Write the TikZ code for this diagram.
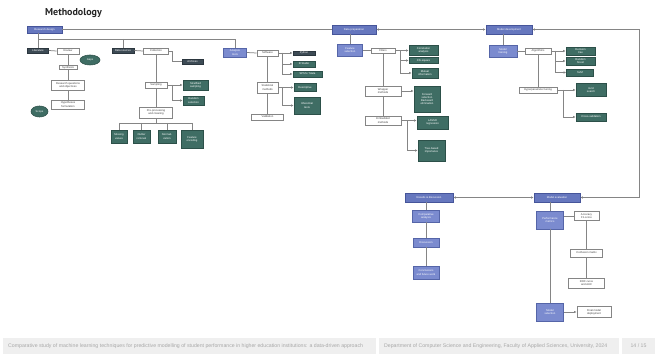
\documentclass[tikz,border=0pt]{standalone}
\usepackage{fontspec}
\setmainfont{Liberation Sans}
\newfontfamily\titlefont{PT Sans}
\usetikzlibrary{arrows.meta,shapes.geometric}
\definecolor{hdfill}{HTML}{6677BE}
\definecolor{hddraw}{HTML}{46559A}
\definecolor{lbfill}{HTML}{7B8BCF}
\definecolor{lbdraw}{HTML}{5565A8}
\definecolor{tlfill}{HTML}{3F6D64}
\definecolor{tldraw}{HTML}{2C5049}
\definecolor{dkfill}{HTML}{3D4B55}
\definecolor{dkdraw}{HTML}{2B363E}
\definecolor{wbdraw}{HTML}{858585}
\definecolor{linec}{HTML}{858585}
\definecolor{footg}{HTML}{EFEFEF}
\definecolor{foott}{HTML}{A8A8A8}
\tikzset{
  base/.style={rectangle, inner sep=0.3pt, font=\fontsize{2.7}{3.1}\selectfont, align=center, line width=0.6pt},
  hd/.style={base, fill=hdfill, draw=hddraw, text=white},
  lb/.style={base, fill=lbfill, draw=lbdraw, text=white},
  tl/.style={base, fill=tlfill, draw=tldraw, text=white},
  dk/.style={base, fill=dkfill, draw=dkdraw, text=white},
  wb/.style={base, fill=white, draw=wbdraw, text=black!75, line width=0.8pt},
  el/.style={ellipse, inner sep=0pt, fill=tlfill, draw=tldraw, text=white, line width=0.6pt, font=\fontsize{2.7}{3.1}\selectfont},
  conn/.style={draw=linec, line width=0.75pt},
  >={Latex[length=2.6pt,width=2.4pt]}
}
\newcommand\bx[7]{\node[#1, minimum width=#5pt, minimum height=#6pt] (#2) at (#3,#4) {#7};}
\begin{document}
\begin{tikzpicture}[x=1pt,y=-1pt]
\useasboundingbox (0,0) rectangle (658,358);
\fill[white] (0,0) rectangle (658,358);
\node[font=\titlefont\bfseries\fontsize{10}{12}\selectfont, text=black!85, anchor=west, inner sep=0pt] (title) at (45,13.5) {Methodology};

% headers
\bx{hd}{A}{44.5}{29.5}{35}{7}{Research design}
\bx{hd}{B}{354}{29.5}{44}{9}{Data preparation}
\bx{hd}{C}{509}{29.5}{46}{9}{Model development}
\bx{hd}{D}{429}{197.5}{48}{9}{Results \& discussion}
\bx{hd}{E}{557}{197.5}{46}{9}{Model evaluation}

% column 1
\bx{dk}{a1}{38}{50.5}{21}{5}{Literature}
\bx{wb}{a2}{68}{51}{22}{6}{Review}
\node[el, minimum width=20pt, minimum height=10pt] (e1) at (90,60) {Gaps};
\bx{wb}{a3}{68}{67.5}{18}{4}{Synthesis}
\bx{wb}{a4}{68}{85}{33}{10}{Research questions\\ and objectives}
\bx{wb}{a5}{68}{104.5}{33}{9}{Hypotheses\\ formulation}
\node[el, minimum width=17pt, minimum height=11pt] (e2) at (39.5,111.5) {Scope};

% column 2
\bx{dk}{b1}{123}{50.5}{22}{5}{Data sources}
\bx{wb}{b2}{156}{51}{25}{6}{Collection}
\bx{dk}{b3}{192.5}{61.5}{21}{5}{Archives}
\bx{wb}{b4}{156}{85}{22}{6}{Sampling}
\bx{tl}{b5}{195.5}{85}{25}{10}{Stratified\\ sampling}
\bx{tl}{b6}{193.5}{100.5}{21}{9}{Random\\ selection}
\bx{wb}{b7}{156}{112.5}{33}{11}{Pre-processing\\ and cleaning}
\bx{tl}{b8}{119}{136.5}{16}{13}{Missing\\ values}
\bx{tl}{b9}{141.5}{136.5}{17}{13}{Outlier\\ removal}
\bx{tl}{b10}{167}{136.5}{18}{13}{Normali-\\zation}
\bx{tl}{b11}{192}{139}{22}{18}{Feature\\ encoding}

% column 3
\bx{lb}{c1}{235}{52.5}{23}{9}{Analysis\\ tools}
\bx{wb}{c2}{267.5}{53}{21}{6}{Software}
\bx{dk}{c3}{304}{53}{22}{4}{Python}
\bx{tl}{c4}{304}{64}{22}{6}{R Studio}
\bx{tl}{c5}{307.5}{74}{29}{6}{SPSS / Stata}
\bx{wb}{c6}{267.5}{87.5}{21}{11}{Statistical\\ methods}
\bx{tl}{c7}{305}{87.5}{22}{8}{Descriptive}
\bx{tl}{c8}{307}{105.5}{26}{17}{Inferential\\ tests}
\bx{wb}{c9}{267.5}{117}{32}{6}{Validation}

% column 4
\bx{lb}{d1}{350}{50.5}{25}{12}{Feature\\ selection}
\bx{wb}{d2}{383}{50.5}{24}{5}{Filters}
\bx{tl}{d3}{423.5}{50.5}{29}{10}{Correlation\\ analysis}
\bx{tl}{d4}{423.5}{60.5}{29}{6}{Chi-square}
\bx{tl}{d5}{425}{73}{26}{10}{Mutual\\ information}
\bx{wb}{d6}{383}{91}{36}{10}{Wrapper\\ methods}
\bx{tl}{d7}{427}{99}{26}{26}{Forward\\ selection\\ Backward\\ elimination}
\bx{wb}{d8}{383}{120.5}{36}{9}{Embedded\\ methods}
\bx{tl}{d9}{432.5}{122.5}{31}{13}{LASSO\\ regression}
\bx{tl}{d10}{431.5}{150.5}{27}{21}{Tree-based\\ importance}

% column 5
\bx{lb}{f1}{503}{51}{28}{12}{Model\\ training}
\bx{wb}{f2}{538}{51}{26}{6}{Algorithms}
\bx{tl}{f3}{580.5}{51}{29}{8}{Decision\\ tree}
\bx{tl}{f4}{580.5}{61}{29}{8}{Random\\ forest}
\bx{tl}{f5}{580}{72.5}{27}{7}{SVM}
\bx{wb}{f6}{538}{90}{38}{6}{Hyperparameter tuning}
\bx{tl}{f7}{591}{90}{30}{13}{Grid\\ search}
\bx{tl}{f8}{591}{117}{30}{8}{Cross-validation}

% bottom
\bx{lb}{D1}{426}{216}{27}{12}{Comparative\\ analysis}
\bx{lb}{D2}{426}{242.5}{26}{9}{Discussion}
\bx{lb}{D3}{426}{272.5}{26}{13}{Conclusions\\ and future work}
\bx{lb}{E1}{550}{220}{27}{18}{Performance\\ metrics}
\bx{wb}{E2}{586.5}{216}{25}{9}{Accuracy\\ F1-score}
\bx{wb}{E3}{586.5}{253}{32}{8}{Confusion matrix}
\bx{wb}{E4}{586.5}{283}{36}{10}{ROC curve\\ and AUC}
\bx{lb}{E5}{550}{312}{27}{18}{Model\\ selection}
\bx{wb}{E6}{594}{312}{34}{11}{Final model\\ deployment}

% main flow
\coordinate (rt) at (639,29.5);
\coordinate (rb) at (639,197.5);
\draw[conn] (A.east) -- (B.west);
\draw[conn,<->] (B.east) -- (C.west);
\draw[conn,->] (rt) -- (C.east);
\draw[conn,->] (rt) -- (rb) -- (E.east);
\draw[conn,<->] (D.east) -- (E.west);

% bus under A
\coordinate (busL) at (38,39);
\coordinate (busR) at (235,39);
\draw[conn] (A.south -| busL) -- (busL) -- (busR) -- (c1.north);
\draw[conn] (busL) -- (a1.north);
\draw[conn] (busL -| b1.north) -- (b1.north);

% column 1
\draw[conn] (a1.east) -- (a2.west);
\draw[conn] (a2) -- (a3) -- (a4) -- (a5);

% column 2
\coordinate (jb2) at (172,51);
\coordinate (jb4) at (172,85);
\coordinate (bb) at (156,123);
\draw[conn] (b1.east) -- (b2.west);
\draw[conn] (b2.east) -- (jb2) |- (b3.west);
\draw[conn] (b2) -- (b4) -- (b7);
\draw[conn,->] (b4.east) -- (b5.west);
\draw[conn,->] (jb4) |- (b6.west);
\draw[conn] (b7.south) -- (bb);
\draw[conn] (b8.north |- bb) -- (b11.north |- bb);
\draw[conn] (b8.north |- bb) -- (b8.north);
\draw[conn] (b9.north |- bb) -- (b9.north);
\draw[conn] (b10.north |- bb) -- (b10.north);
\draw[conn] (b11.north |- bb) -- (b11.north);

% column 3
\coordinate (jc2) at (282,53);
\coordinate (jc6) at (282,87.5);
\draw[conn] (c1.east) -- (c2.west);
\draw[conn,->] (c2.east) -- (c3.west);
\draw[conn,->] (jc2) |- (c4.west);
\draw[conn,->] (jc2) |- (c5.west);
\draw[conn] (c2) -- (c6) -- (c9);
\draw[conn,->] (c6.east) -- (c7.west);
\draw[conn,->] (jc6) |- (c8.west);

% column 4
\coordinate (jd2) at (400,50.5);
\coordinate (jd8) at (407,120.5);
\draw[conn] (B.south -| d1.north) -- (d1.north);
\draw[conn] (d1.east) -- (d2.west);
\draw[conn,->] (d2.east) -- (d3.west);
\draw[conn,->] (jd2) |- (d4.west);
\draw[conn,->] (jd2) |- (d5.west);
\draw[conn] (d2) -- (d6) -- (d8);
\draw[conn,->] (d6.east) -- (d6.east -| d7.west);
\draw[conn,->] (d8.east) -- (d8.east -| d9.west);
\draw[conn,->] (jd8) |- (d10.west);

% column 5
\coordinate (jf2) at (555,51);
\coordinate (jf6) at (563,90);
\draw[conn] (C.south -| f1.north) -- (f1.north);
\draw[conn] (f1.east) -- (f2.west);
\draw[conn,->] (f2.east) -- (f3.west);
\draw[conn,->] (jf2) |- (f4.west);
\draw[conn,->] (jf2) |- (f5.west);
\draw[conn] (f2) -- (f6);
\draw[conn,->] (f6.east) -- (f7.west);
\draw[conn,->] (jf6) |- (f8.west);

% bottom
\draw[conn] (D.south -| D1.north) -- (D1.north);
\draw[conn] (D1) -- (D2) -- (D3);
\draw[conn] (E.south -| E1.north) -- (E1.north);
\draw[conn] (E2.west -| E1.east) -- (E2.west);
\draw[conn] (E2) -- (E3) -- (E4);
\draw[conn] (E1) -- (E5);
\draw[conn,->] (E5.east) -- (E6.west);

% footer
\fill[footg] (3,338) rectangle (376,354);
\fill[footg] (379,338) rectangle (619,354);
\fill[footg] (622,338) rectangle (655,354);
\node[anchor=west, inner sep=0pt, text=foott, font=\fontsize{5.2}{6}\selectfont] (fl) at (8,346) {Comparative study of machine learning techniques for predictive modelling of student performance in higher education institutions: a data-driven approach};
\node[anchor=west, inner sep=0pt, text=foott, font=\fontsize{5.2}{6}\selectfont] (fm) at (384,346) {Department of Computer Science and Engineering, Faculty of Applied Sciences, University, 2024};
\node[anchor=center, inner sep=0pt, text=foott, font=\fontsize{5.2}{6}\selectfont] (fp) at (638.5,346) {14 / 15};
\end{tikzpicture}
\end{document}
